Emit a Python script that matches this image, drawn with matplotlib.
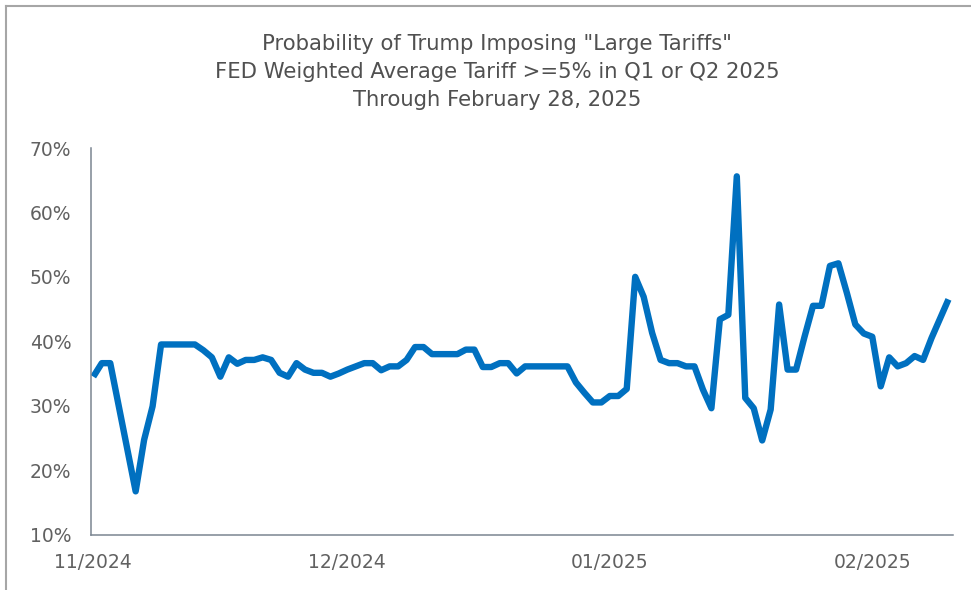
import matplotlib
matplotlib.use("Agg")
import matplotlib.pyplot as plt
import matplotlib.dates as mdates
from matplotlib.lines import Line2D
import pandas as pd

# ---- data (vertices; day offset from 2024-11-01, value in %) ----
day_offsets = [0, 1, 2, 5, 6, 7, 8, 12, 13, 14, 15, 16, 17, 18, 19, 20, 21, 22, 23, 24,
               25, 26, 27, 28, 29, 30, 31, 32, 33, 34, 35, 36, 37, 38, 39, 40, 43, 44, 45,
               46, 47, 48, 49, 50, 51, 56, 57, 58, 59, 60, 61, 62, 63, 64, 65, 66, 67, 68,
               69, 70, 71, 72, 73, 74, 75, 76, 77, 78, 79, 80, 81, 82, 83, 84, 85, 86, 87,
               88, 89, 90, 91, 92, 93, 94, 95, 96, 97, 98, 99, 101]
probability = [34.5, 36.6, 36.6, 16.7, 24.7, 29.9, 39.5, 39.5, 38.6, 37.5, 34.5, 37.5, 36.5,
               37.1, 37.1, 37.5, 37.1, 35.1, 34.5, 36.6, 35.6, 35.1, 35.1, 34.5, 35.0, 35.6,
               36.1, 36.6, 36.6, 35.5, 36.1, 36.1, 37.1, 39.1, 39.1, 38.0, 38.0, 38.7, 38.7,
               36.0, 36.0, 36.6, 36.6, 35.0, 36.1, 36.1, 33.6, 32.0, 30.5, 30.5, 31.5, 31.5,
               32.6, 50.0, 46.9, 41.3, 37.1, 36.6, 36.6, 36.1, 36.1, 32.5, 29.6, 43.4, 44.1,
               65.6, 31.2, 29.6, 24.6, 29.4, 45.7, 35.6, 35.6, 40.7, 45.5, 45.5, 51.7, 52.1,
               47.5, 42.6, 41.2, 40.7, 33.0, 37.5, 36.1, 36.6, 37.7, 37.1, 40.5, 46.5]
start_date = "2024-11-01"
tick_dates = ["2024-11-01", "2024-12-01", "2025-01-01", "2025-02-01"]
tick_labels = ["11/2024", "12/2024", "01/2025", "02/2025"]
y_ticks = [10, 20, 30, 40, 50, 60, 70]
title_lines = ['Probability of Trump Imposing "Large Tariffs"',
               'FED Weighted Average Tariff >=5% in Q1 or Q2 2025',
               'Through February 28, 2025']

W, H = 971, 590
fig = plt.figure(figsize=(W / 100, H / 100), dpi=100)
fig.patch.set_facecolor("white")

left, right, top, bottom = 90.7, 952.7, 148, 534.5
ax = fig.add_axes([left / W, 1 - bottom / H, (right - left) / W, (bottom - top) / H])

base = pd.Timestamp(start_date)
dates = [base + pd.Timedelta(days=d) for d in day_offsets]
ax.plot(dates, probability, color="#0070C0", lw=4.6, solid_joinstyle="round",
        solid_capstyle="butt")

ax.set_ylim(10, 70)
ax.set_xlim(mdates.date2num(base) - 0.31, mdates.date2num(base) + 101.5)

font = "DejaVu Sans"
tc = "#616161"
ax.set_yticks(y_ticks)
ax.set_yticklabels([f"{v}%" for v in y_ticks], fontsize=13.5, color=tc, family=font)
ax.set_xticks([mdates.date2num(pd.Timestamp(d)) for d in tick_dates])
ax.set_xticklabels(tick_labels, fontsize=13.5, color=tc, family=font)
ax.tick_params(axis="y", length=0, pad=14)
ax.tick_params(axis="x", length=0, pad=13)

for s in ["top", "right"]:
    ax.spines[s].set_visible(False)
for s in ["left", "bottom"]:
    ax.spines[s].set_color("#7a8591")
    ax.spines[s].set_linewidth(1.1)

baselines = [50, 78, 106]
for line, b in zip(title_lines, baselines):
    fig.text(497 / W, 1 - b / H, line, ha="center", va="baseline", fontsize=15.2,
             color="#505050", family=font)

# outer frame (top and left edges visible)
fig.add_artist(Line2D([5.5 / W, 1], [1 - 5.5 / H, 1 - 5.5 / H], transform=fig.transFigure,
                      color="#a6a6a6", lw=1.5))
fig.add_artist(Line2D([5.5 / W, 5.5 / W], [0, 1 - 5.5 / H], transform=fig.transFigure,
                      color="#a6a6a6", lw=1.5))

fig.savefig("out.png", dpi=100)
